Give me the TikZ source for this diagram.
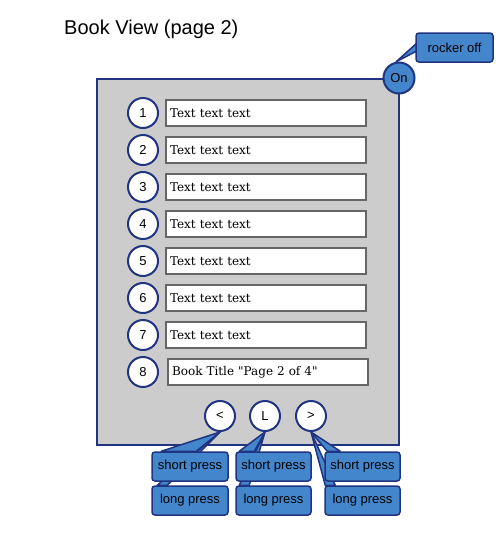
\documentclass[tikz,border=0pt]{standalone}
\usepackage{fontspec}
\setmainfont{Liberation Sans}
\newfontfamily\serifbox{DejaVu Serif}
\usetikzlibrary{calc}
\definecolor{dkblue}{RGB}{33,52,130}
\definecolor{cblue}{RGB}{68,134,204}
\definecolor{panelgray}{RGB}{204,204,204}
\pgfdeclarelayer{panellayer}
\pgfdeclarelayer{wedgelayer}
\pgfsetlayers{panellayer,wedgelayer,main}
\begin{document}
\begin{tikzpicture}[x=1pt,y=-1pt,
  numc/.style={circle,draw=dkblue,line width=2pt,fill=white,minimum size=30pt,inner sep=0pt,font=\fontsize{13}{13}\selectfont},
  tbox/.style={draw=black!60,line width=1.2pt,fill=white,minimum width=200pt,minimum height=26pt,inner sep=0pt,text width=192pt,align=left,font=\serifbox\fontsize{12}{12}\selectfont},
  call/.style={draw=dkblue,line width=1.5pt,fill=cblue,rounded corners=3pt,minimum width=76pt,minimum height=29pt,inner sep=0pt,font=\fontsize{13}{13}\selectfont},
  wedge/.style={draw=dkblue,line width=1.5pt,fill=cblue,line join=round}]
\useasboundingbox (0,0) rectangle (500,550);

\begin{pgfonlayer}{panellayer}
\fill[white] (0,0) rectangle (500,550);
\node[draw=dkblue,fill=panelgray,line width=2pt,minimum width=302pt,minimum height=366pt,inner sep=0pt] (panel) at (248,262) {};
\end{pgfonlayer}

\node[anchor=west,inner sep=0pt,font=\fontsize{20}{20}\selectfont] (title) at (64,29) {Book View (page 2)};

\foreach \i in {1,...,7} {
  \node[numc] (n\i) at (143,{113+37*(\i-1)}) {\i};
  \node[tbox] (t\i) at (266,{113+37*(\i-1)}) {Text text text};
}
\node[numc] (n8) at (143,372) {8};
\node[tbox] (t8) at (268,372) {Book Title "Page 2 of 4"};

% buttons
\node[numc] (bl) at (220,416) {<};
\node[numc] (bL) at (265,416) {L};
\node[numc] (br) at (311,416) {>};

% callout boxes
\node[call] (s1) at (190,466.5) {short press};
\node[call,minimum width=75pt] (s2) at (273.5,466.5) {short press};
\node[call,minimum width=75pt] (s3) at (362.5,466.5) {short press};
\node[call] (l1) at (190,500.5) {long press};
\node[call,minimum width=75pt] (l2) at (273.5,500.5) {long press};
\node[call,minimum width=75pt] (l3) at (362.5,500.5) {long press};

% On / rocker off
\node[call,minimum width=77pt] (rock) at (454.5,47.5) {rocker off};
\node[numc,fill=cblue,minimum size=31pt] (on) at (399,78) {On};

\begin{pgfonlayer}{wedgelayer}
% long press wedges
\draw[wedge] ($(l1.north west)+(6,0)$) -- (bl.south) -- ($(l1.north west)+(16,0)$) -- cycle;
\draw[wedge] ($(l2.north west)+(4,0)$) -- (bL.south) -- ($(l2.north west)+(14,0)$) -- cycle;
\draw[wedge] ($(l3.north west)+(1,0)$) -- (br.south) -- ($(l3.north west)+(11,0)$) -- cycle;
% short press wedges
\draw[wedge] ($(s1.north west)+(10,0)$) -- (bl.south) -- ($(s1.north west)+(45,0)$) -- cycle;
\draw[wedge] ($(s2.north west)+(4,0)$) -- (bL.south) -- ($(s2.north west)+(19,0)$) -- cycle;
\draw[wedge] ($(s3.north west)+(3,0)$) -- (br.south) -- ($(s3.north west)+(16,0)$) -- cycle;
% rocker wedge
\draw[wedge] ($(rock.south west)+(2,-20)$) -- (on.100) -- ($(rock.south west)+(2,-12)$) -- cycle;
\end{pgfonlayer}
\end{tikzpicture}
\end{document}
